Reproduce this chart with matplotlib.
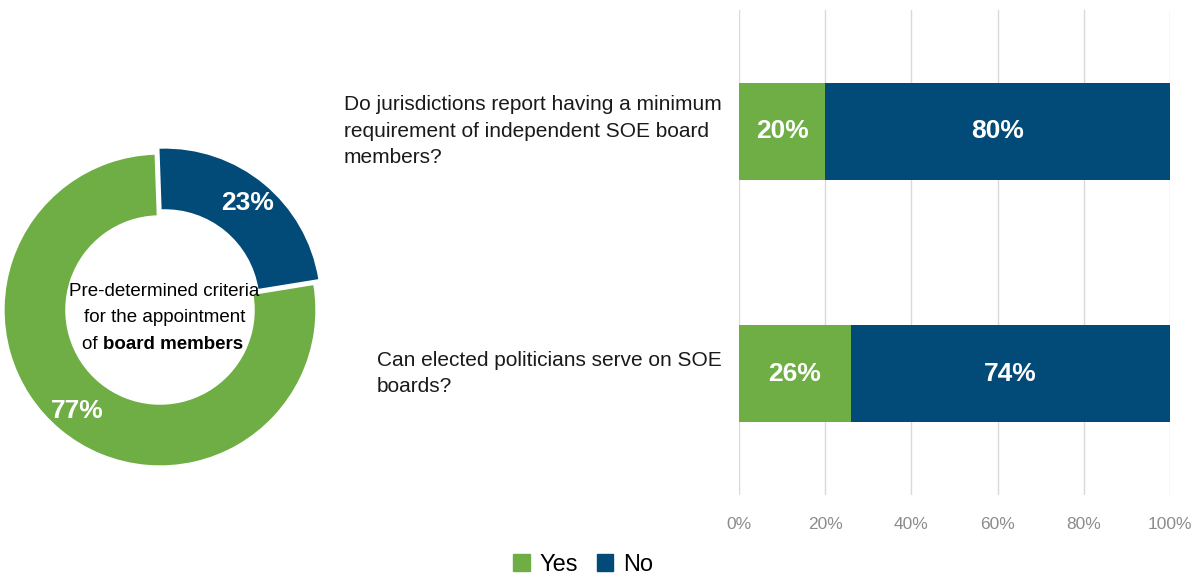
import matplotlib.pyplot as plt
from matplotlib.patches import Patch

plt.rcParams['font.family'] = ['Liberation Sans Narrow', 'Liberation Sans', 'DejaVu Sans']

GREEN = '#6FAE44'
BLUE = '#024A77'

# Donut: pre-determined criteria for board appointments
donut_labels = ['No', 'Yes']
donut_values = [23, 77]

# Bars: share answering Yes / No for each question
questions = [
    'Do jurisdictions report having a minimum\nrequirement of independent SOE board\nmembers?',
    'Can elected politicians serve on SOE\nboards?',
]
yes_pct = [20, 26]
no_pct = [80, 74]
ticks = [0, 20, 40, 60, 80, 100]

fig = plt.figure(figsize=(12, 5.79), dpi=100)

# ----- donut -----
ax_d = fig.add_axes([0, 1 - 470 / 579, 320 / 1200, 320 / 579])
wedges, _, pct_texts = ax_d.pie(
    donut_values, colors=[BLUE, GREEN], startangle=92, counterclock=False,
    explode=[0.05, 0], radius=1.0, wedgeprops=dict(width=0.39, edgecolor='white', linewidth=0),
    autopct='%1.0f%%', pctdistance=0.84,
    textprops=dict(color='white', fontsize=19, fontweight='bold'))
ax_d.set_xlim(-1.03, 1.03)
ax_d.set_ylim(-1.03, 1.03)
ax_d.set_aspect('equal')
ax_d.axis('off')

ax_d.text(0.03, 0.12, 'Pre-determined criteria', ha='center', va='center', fontsize=13.5)
ax_d.text(0.03, -0.05, 'for the appointment', ha='center', va='center', fontsize=13.5)
t_of = ax_d.text(-0.37, -0.225, 'of ', ha='right', va='center', fontsize=13.5)
ax_d.annotate('board members', xy=(1, 0.5), xycoords=t_of, ha='left', va='center',
              fontsize=13.5, fontweight='bold')

# ----- stacked bars -----
ax = fig.add_axes([739 / 1200, 1 - 495 / 579, 431 / 1200, 485 / 579])
ypos = range(len(questions))
ax.barh(ypos, yes_pct, height=0.4, color=GREEN)
ax.barh(ypos, no_pct, left=yes_pct, height=0.4, color=BLUE)
for i in ypos:
    ax.text(yes_pct[i] / 2, i, f'{yes_pct[i]}%', ha='center', va='center',
            color='white', fontsize=19, fontweight='bold')
    ax.text(yes_pct[i] + no_pct[i] / 2, i, f'{no_pct[i]}%', ha='center', va='center',
            color='white', fontsize=19, fontweight='bold')
    ax.text(-4, i, questions[i], ha='right', va='center', multialignment='left',
            fontsize=15, color='#1a1a1a', linespacing=1.5)

ax.set_xlim(0, 100)
ax.set_ylim(1.5, -0.5)
ax.set_xticks(ticks)
ax.set_xticklabels([f'{t}%' for t in ticks], color='#8c8c8c', fontsize=12.5)
ax.set_yticks([])
ax.tick_params(axis='x', length=0, pad=16)
ax.grid(axis='x', color='#d9d9d9', linewidth=1)
ax.set_axisbelow(True)
for s in ax.spines.values():
    s.set_visible(False)

fig.legend(handles=[Patch(color=GREEN, label='Yes'), Patch(color=BLUE, label='No')],
           loc='center', bbox_to_anchor=(583 / 1200, 1 - 565 / 579), ncol=2, frameon=False,
           fontsize=17, handlelength=0.7, handleheight=0.7, handletextpad=0.4, columnspacing=0.8)

fig.savefig('out.png', dpi=100, facecolor='white')
